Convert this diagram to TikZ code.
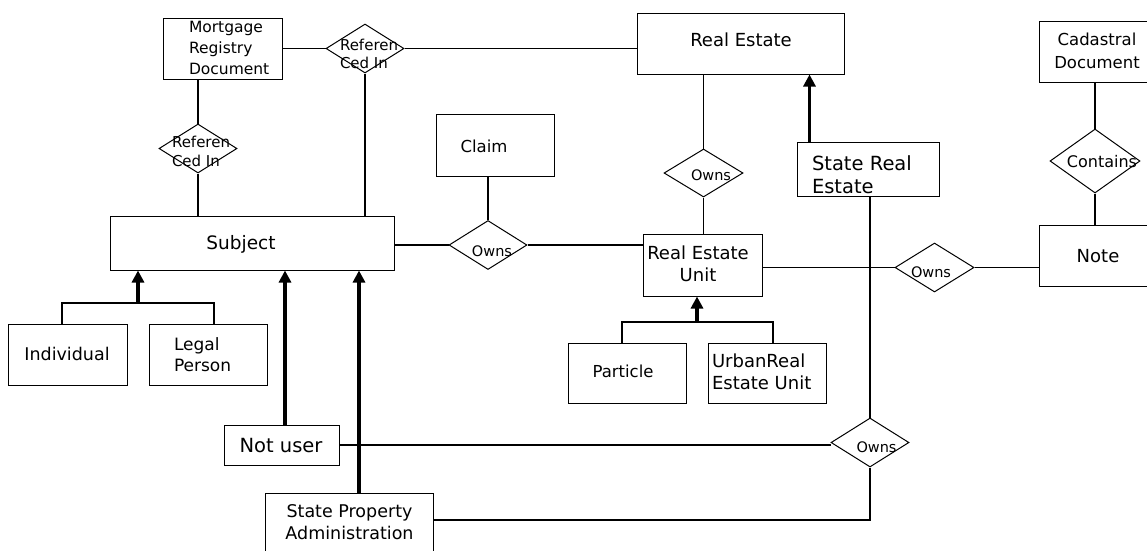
\documentclass[tikz,border=0pt]{standalone}
\usepackage{fontspec}
\setmainfont{DejaVu Sans}
\usetikzlibrary{shapes.geometric,arrows.meta}
\begin{document}
\begin{tikzpicture}[x=1pt,y=-1pt,
  ebox/.style={draw, rectangle, inner sep=0pt, line width=1pt},
  rel/.style={draw, diamond, inner sep=0pt, line width=1pt},
  link/.style={line width=1.4pt},
  isa/.style={line width=3.6pt, -{Triangle[width=12pt,length=12pt]}},
  lbl/.style={inner sep=0pt, outer sep=0pt},
  fs/.style 2 args={font=\fontsize{#1}{#2}\selectfont}]
\useasboundingbox (0,0) rectangle (1147,550);
\fill[white] (0,0) rectangle (1147,550);
\begin{scope}
\clip (0,0) rectangle (1147,550);

% entity boxes
\node[ebox,minimum width=119pt,minimum height=61pt] (mrd)   at (222.5,48.5) {};
\node[ebox,minimum width=207pt,minimum height=61pt] (re)    at (740.5,43.5) {};
\node[ebox,minimum width=121pt,minimum height=61pt] (cad)   at (1099.5,51.5) {};
\node[ebox,minimum width=118pt,minimum height=62pt] (claim) at (495,145) {};
\node[ebox,minimum width=142pt,minimum height=54pt] (sre)   at (868,169) {};
\node[ebox,minimum width=284pt,minimum height=54pt] (subj)  at (252,243) {};
\node[ebox,minimum width=119pt,minimum height=62pt] (reu)   at (702.5,265) {};
\node[ebox,minimum width=121pt,minimum height=61pt] (note)  at (1099.5,255.5) {};
\node[ebox,minimum width=119pt,minimum height=61pt] (ind)   at (67.5,354.5) {};
\node[ebox,minimum width=118pt,minimum height=61pt] (lp)    at (208,354.5) {};
\node[ebox,minimum width=118pt,minimum height=60pt] (part)  at (627,373) {};
\node[ebox,minimum width=118pt,minimum height=60pt] (urb)   at (767,373) {};
\node[ebox,minimum width=115pt,minimum height=40pt] (nu)    at (281.5,445) {};
\node[ebox,minimum width=168pt,minimum height=77pt] (spa)   at (349,531.5) {};

% relationship diamonds
\node[rel,minimum width=78pt,minimum height=49pt] (ref1)  at (365,48.5) {};
\node[rel,minimum width=78pt,minimum height=49pt] (ref2)  at (198,148.5) {};
\node[rel,minimum width=79pt,minimum height=48pt] (owns1) at (703.5,173) {};
\node[rel,minimum width=78pt,minimum height=49pt] (owns2) at (488,245) {};
\node[rel,minimum width=79pt,minimum height=49pt] (owns3) at (934.5,267.5) {};
\node[rel,minimum width=90pt,minimum height=64pt] (cont)  at (1095,161) {};
\node[rel,minimum width=78pt,minimum height=49pt] (owns4) at (870,442.5) {};

% texts
\node[lbl,fs={15.5}{21},align=left,anchor=north west] (tmrd) at (189,20.7) {Mortgage\\Registry\\Document};
\node[lbl,fs={15}{18},align=left,anchor=north west] (tref1) at (340,38.6) {Referen\\Ced In};
\node[lbl,fs={15}{19},align=left,anchor=north west] (tref2) at (172,135.6) {Referen\\Ced In};
\node[lbl,fs={18}{22},anchor=base] (tre) at (741,46) {Real Estate};
\node[lbl,fs={16.5}{20},anchor=base] (tclaim) at (484,152) {Claim};
\node[lbl,fs={14.5}{18},anchor=base] (to1) at (711,180) {Owns};
\node[lbl,fs={14.5}{18},anchor=base] (to2) at (492,256) {Owns};
\node[lbl,fs={14.5}{18},anchor=base] (to3) at (931,277) {Owns};
\node[lbl,fs={14.5}{18},anchor=base] (to4) at (876.5,452) {Owns};
\node[lbl,fs={16}{20},anchor=base] (tcont) at (1102,167) {Contains};
\node[lbl,fs={18.5}{22},anchor=base] (tsubj) at (241,249) {Subject};
\node[lbl,fs={18}{22},align=center,anchor=north] (treu) at (698,246.3) {Real Estate\\Unit};
\node[lbl,fs={18}{22},anchor=base] (tnote) at (1098,262) {Note};
\node[lbl,fs={16.5}{23},align=center,anchor=north] (tcad) at (1097,32.5) {Cadastral\\Document};
\node[lbl,fs={19.5}{23},align=left,anchor=north west] (tsre) at (812,155.2) {State Real\\Estate};
\node[lbl,fs={17.5}{21},anchor=base] (tind) at (67,360) {Individual};
\node[lbl,fs={17}{21},align=left,anchor=north west] (tlp) at (174,338) {Legal\\Person};
\node[lbl,fs={16.5}{20},anchor=base] (tpart) at (623,377) {Particle};
\node[lbl,fs={18}{22},align=left,anchor=north west] (turb) at (712,354.3) {UrbanReal\\Estate Unit};
\node[lbl,fs={19.5}{23},anchor=base] (tnu) at (281,452) {Not user};
\node[lbl,fs={17.5}{22},align=center,anchor=north] (tspa) at (349.5,504.2) {State Property\\Administration};

% relationship links
\draw[link] (mrd.east) -- (ref1.west);
\draw[link] (ref1.east) -- (ref1.east -| re.west);
\draw[link] (ref1.south) -- (ref1.south |- subj.north);
\draw[link] (ref2.north |- mrd.south) -- (ref2.north);
\draw[link] (ref2.south) -- (ref2.south |- subj.north);
\draw[link] (owns2.north |- claim.south) -- (owns2.north);
\draw[link] (subj.east |- owns2.west) -- (owns2.west);
\draw[link] (owns2.east) -- (owns2.east -| reu.west);
\draw[link] (owns1.north |- re.south) -- (owns1.north);
\draw[link] (owns1.south) -- (owns1.south |- reu.north);
\draw[link] (owns4.north |- sre.south) -- (owns4.north);
\draw[link] (reu.east |- owns3.west) -- (owns3.west);
\draw[link] (owns3.east) -- (owns3.east -| note.west);
\draw[link] (cont.north |- cad.south) -- (cont.north);
\draw[link] (cont.south) -- (cont.south |- note.north);
\draw[link] (nu.east) -- (nu.east -| owns4.west);
\draw[link] (owns4.south) |- ([yshift=11.5pt]spa.east);

% generalisation links
\coordinate (fsubj) at (138,303);
\draw[link] ([xshift=-5.5pt]ind.north) |- (fsubj) -| ([xshift=6pt]lp.north);
\draw[isa] (fsubj) -- (fsubj |- subj.south);
\coordinate (freu) at (697,322);
\draw[link] ([xshift=-5pt]part.north) |- (freu) -| ([xshift=6pt]urb.north);
\draw[isa] (freu) -- (freu |- reu.south);
\coordinate (tsreTop) at ([xshift=13pt]sre.north west);
\draw[isa] (tsreTop) -- (tsreTop |- re.south);
\draw[isa] ([xshift=3.5pt]nu.north) -- ([xshift=3.5pt]nu.north |- subj.south);
\draw[isa] ([xshift=10pt]spa.north) -- ([xshift=10pt]spa.north |- subj.south);
\end{scope}
\end{tikzpicture}
\end{document}
